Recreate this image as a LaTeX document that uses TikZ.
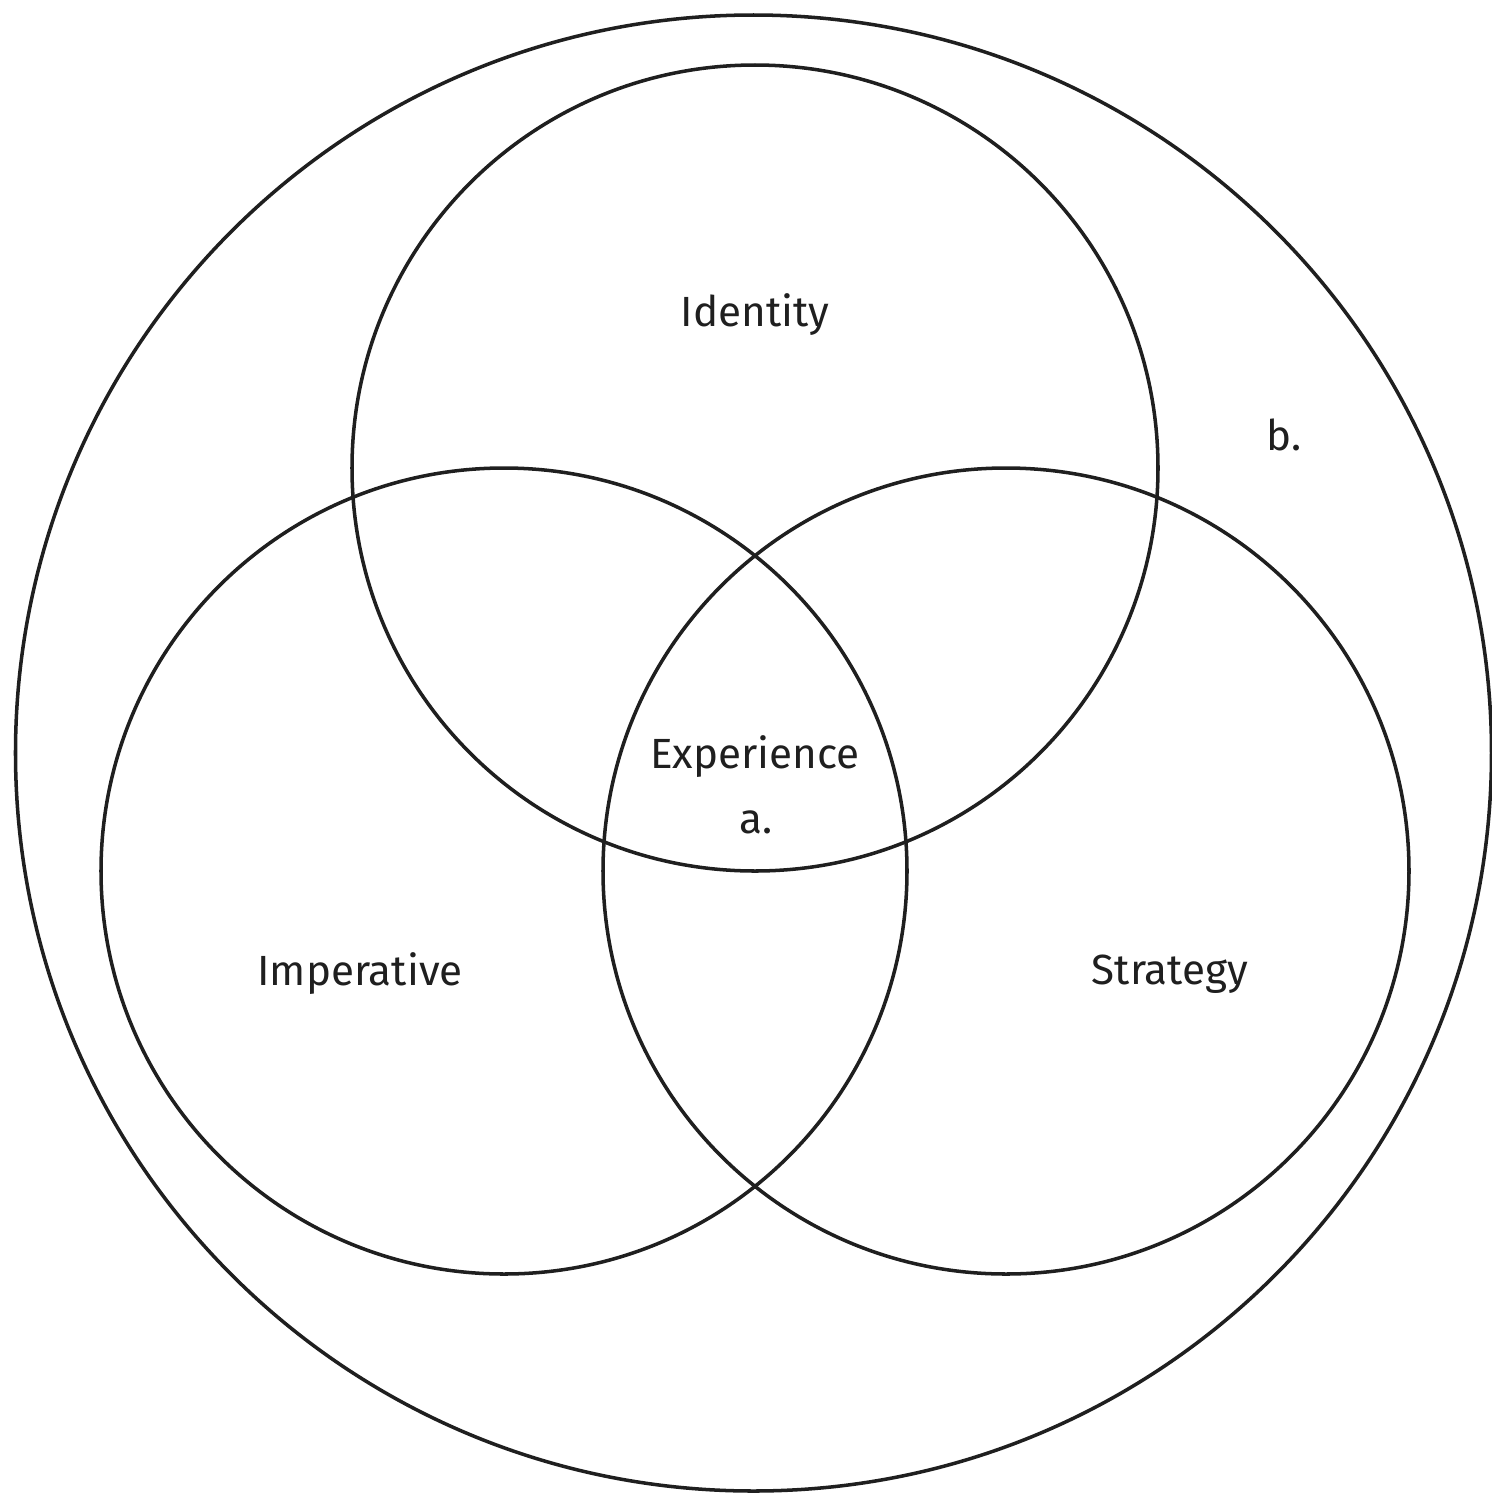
\documentclass[tikz,border=0pt]{standalone}
\usepackage{fontspec}
\setmainfont{Fira Sans}
\begin{document}
\begin{tikzpicture}[x=0.01cm,y=-0.01cm,
  ring/.style={draw=black!88,line width=1pt},
  lbl/.style={font=\fontsize{12pt}{14pt}\selectfont,text=black!88,inner sep=0pt}]
\useasboundingbox (0,0) rectangle (1492,1493);
% outer set
\draw[ring] (753.5,753) circle[radius=738];
% three overlapping sets
\draw[ring] (755,468) circle[radius=403];
\draw[ring] (504,871) circle[radius=403];
\draw[ring] (1006,871) circle[radius=403];
% labels
\node[lbl] (identity) at (755,315) {Identity};
\node[lbl] (b) at (1284,435) {b.};
\node[lbl] (experience) at (755,757) {Experience};
\node[lbl] (a) at (756,822) {a.};
\node[lbl] (imperative) at (360,974) {Imperative};
\node[lbl] (strategy) at (1170,974) {Strategy};
\end{tikzpicture}
\end{document}
